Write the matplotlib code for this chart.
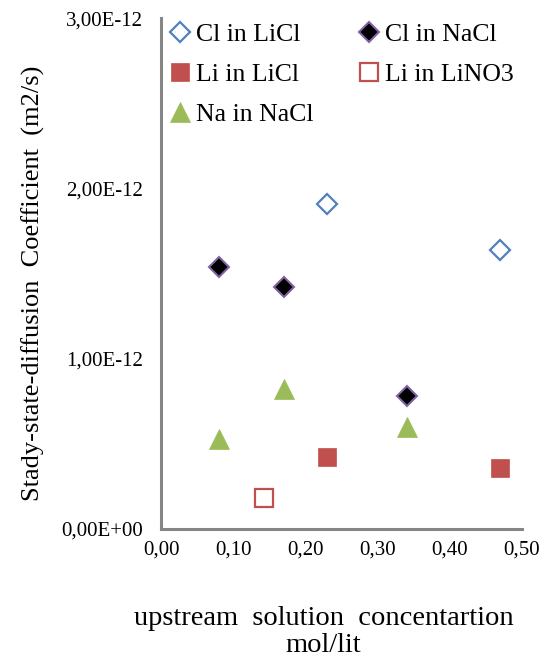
import matplotlib
matplotlib.use("Agg")
import matplotlib.pyplot as plt
from matplotlib.ticker import FuncFormatter

# concentration (mol/lit) and diffusion coefficient (m2/s)
cl_licl_x = [0.23, 0.47]
cl_licl_y = [1.91e-12, 1.64e-12]
cl_nacl_x = [0.08, 0.17, 0.34]
cl_nacl_y = [1.54e-12, 1.42e-12, 0.78e-12]
li_licl_x = [0.23, 0.47]
li_licl_y = [0.42e-12, 0.36e-12]
li_lino3_x = [0.143]
li_lino3_y = [0.18e-12]
na_nacl_x = [0.08, 0.17, 0.34]
na_nacl_y = [0.53e-12, 0.82e-12, 0.60e-12]

x_ticks = [0.0, 0.1, 0.2, 0.3, 0.4, 0.5]
y_ticks = [0.0, 1e-12, 2e-12, 3e-12]

plt.rcParams['font.family'] = ['Liberation Serif', 'DejaVu Serif']

fig = plt.figure(figsize=(5.52, 6.66), dpi=100)
ax = fig.add_axes([0.2917, 0.2057, 0.654, 0.767])

h1, = ax.plot(cl_licl_x, cl_licl_y, 'D', ms=10, mfc='white', mec='#4F81BD', mew=1.6,
              linestyle='none', label='Cl in LiCl', clip_on=False)
h2, = ax.plot(cl_nacl_x, cl_nacl_y, 'D', ms=10, mfc='black', mec='#8064A2', mew=1.5,
              linestyle='none', label='Cl in NaCl', clip_on=False)
h3, = ax.plot(li_licl_x, li_licl_y, 's', ms=13.5, mfc='#C0504D', mec='#C0504D', mew=0.5,
              linestyle='none', label='Li in LiCl', clip_on=False)
h4, = ax.plot(li_lino3_x, li_lino3_y, 's', ms=12.5, mfc='white', mec='#C0504D', mew=1.6,
              linestyle='none', label='Li in LiNO3', clip_on=False)
h5, = ax.plot(na_nacl_x, na_nacl_y, '^', ms=15, mfc='#9BBB59', mec='#9BBB59', mew=0.5,
              linestyle='none', label='Na in NaCl', clip_on=False)

ax.set_xlim(0, 0.5)
ax.set_ylim(0, 3e-12)
ax.set_xticks(x_ticks)
ax.set_yticks(y_ticks)
ax.xaxis.set_major_formatter(FuncFormatter(lambda v, p: f"{v:.2f}".replace('.', ',')))
ax.yaxis.set_major_formatter(FuncFormatter(lambda v, p: f"{v:.2E}".replace('.', ',')))
ax.tick_params(axis='both', length=0, labelsize=15)
ax.tick_params(axis='x', pad=8)
ax.tick_params(axis='y', pad=13)

for side in ['top', 'right']:
    ax.spines[side].set_visible(False)
for side in ['left', 'bottom']:
    ax.spines[side].set_color('#868686')
    ax.spines[side].set_linewidth(2.2)

ax.set_xlabel('upstream  solution  concentartion\nmol/lit', fontsize=20.5,
              linespacing=1.15)
ax.xaxis.set_label_coords(0.45, -0.15, transform=ax.transAxes)
ax.xaxis.label.set_verticalalignment('top')
ax.set_ylabel('Stady-state-diffusion  Coefficient  (m2/s)', fontsize=19)
ax.yaxis.set_label_coords(-0.322, 0.48, transform=ax.transAxes)

leg = ax.legend(handles=[h1, h3, h5, h2, h4], ncol=2, loc='upper left',
                bbox_to_anchor=(0.025, 0.99), frameon=False, fontsize=18.5,
                handlelength=0.8, handletextpad=0.22, columnspacing=1.75,
                labelspacing=0.66, borderpad=0.0, borderaxespad=0.0)

fig.savefig('out.png', dpi=100)
